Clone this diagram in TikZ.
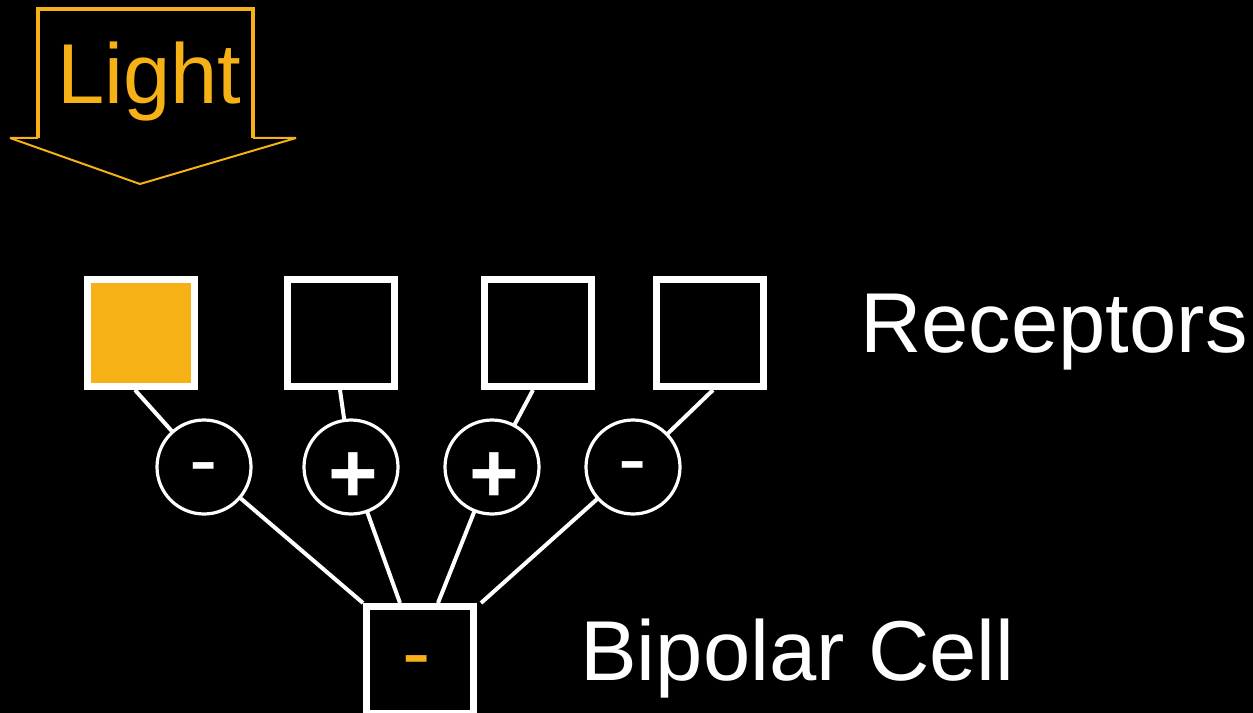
\documentclass[tikz,border=0pt]{standalone}
\usepackage{fontspec}
\setmainfont{Liberation Sans}
\usetikzlibrary{backgrounds}
\definecolor{lightorange}{HTML}{F5B115}
\begin{document}
\begin{tikzpicture}[x=0.75pt,y=-0.75pt,
  bigtext/.style={font=\fontsize{63.75pt}{70pt}\selectfont, inner sep=0pt},
  receptor/.style={draw=white, line width=5.25pt, fill=black, minimum size=80.25pt, inner sep=0pt},
  synapse/.style={circle, draw=white, line width=2.4pt, fill=black, minimum size=70.5pt, inner sep=0pt},
  wire/.style={draw=white, line width=3pt},
  sign/.style={bigtext, anchor=base, text=white}]
\begin{scope}[on background layer]
\fill[black] (0,0) rectangle (1253,713);
\end{scope}
\useasboundingbox (0,0) rectangle (1253,713);
% Light arrow
\draw[lightorange, line width=2.5pt, line join=miter] (38,138) -- (38,9) -- (253,9) -- (253,138);
\draw[lightorange, line width=1.5pt, line join=bevel] (38,138) -- (10,138) -- (140,184) -- (296,138) -- (253,138);
\node[bigtext, anchor=base west, text=lightorange] (light) at (57,104) {Light};
% receptors
\node[receptor, fill=lightorange] (r1) at (141,333) {};
\node[receptor] (r2) at (341,333) {};
\node[receptor] (r3) at (538,333) {};
\node[receptor] (r4) at (710,333) {};
\node[bigtext, anchor=base west, text=white] (rlab) at (860,352) {Receptors};
% synapses
\node[synapse] (c1) at (204,467) {};
\node[synapse] (c2) at (351,467) {};
\node[synapse] (c3) at (492,467) {};
\node[synapse] (c4) at (633,467) {};
\node[sign] (s1) at (204,488) {-};
\node[sign, font=\bfseries\fontsize{63.75pt}{70pt}\selectfont] (s2) at (353,502) {+};
\node[sign, font=\bfseries\fontsize{63.75pt}{70pt}\selectfont] (s3) at (494,502) {+};
\node[sign] (s4) at (633,487) {-};
% bipolar cell
\node[receptor] (b) at (420,660) {};
\node[sign, text=lightorange] (bs) at (417,681) {-};
\node[bigtext, anchor=base west, text=white] (blab) at (580,680) {Bipolar Cell};
% wires
\begin{scope}[on background layer]
\draw[wire] ([xshift=-4.5pt]r1.south) -- (c1.center);
\draw[wire] ([xshift=-0.75pt]r2.south) -- (c2.center);
\draw[wire] ([xshift=-3.75pt]r3.south) -- (c3.center);
\draw[wire] ([xshift=2.25pt]r4.south) -- (c4.center);
\draw[wire] (c1.center) -- (b.north west);
\draw[wire] (c2.center) -- ([xshift=-15pt]b.north);
\draw[wire] (c3.center) -- ([xshift=13.5pt]b.north);
\draw[wire] (c4.center) -- ([xshift=3pt]b.north east);
\end{scope}
\end{tikzpicture}
\end{document}
